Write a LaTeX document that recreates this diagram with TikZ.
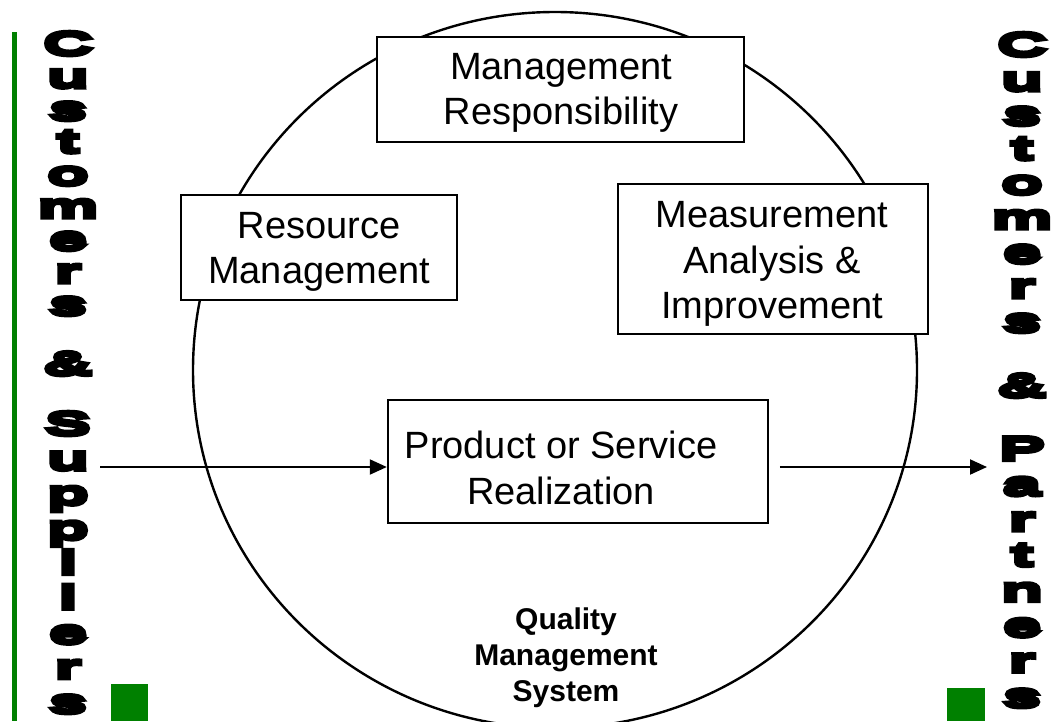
\documentclass[tikz,border=0pt]{standalone}
\usepackage{fontspec}
\setmainfont{Liberation Sans}
\newfontfamily\heavyfont[FakeStretch=2.05,FakeBold=12]{Liberation Sans Bold}
\usetikzlibrary{positioning,arrows.meta}
\definecolor{qmsgreen}{RGB}{0,128,0}

\begin{document}
\begin{tikzpicture}[
  x=0.75pt, y=-0.75pt,
  squarednode/.style={rectangle, draw=black, line width=1.8pt, fill=white, inner sep=0pt},
  boxtext/.style={align=center, font=\fontsize{28.5}{34}\selectfont},
  arrow/.style = {line width=1.5pt,-{Triangle[length=12.75pt,width=11.25pt]}},
  letternode/.style={font=\heavyfont\fontsize{25}{25}\selectfont, anchor=base, inner sep=0pt},
  greenbox/.style={fill=qmsgreen, inner sep=0pt}
]
\useasboundingbox (0,0) rectangle (1055,721);

%Circle
\draw[line width=1.8pt] (555,370) ellipse [x radius=362, y radius=358];

%Nodes
\node[squarednode, minimum width=275.3pt, minimum height=78.8pt] (mgmt) at (560.5,89.5) {};
\node[boxtext] (mgmtlabel) at (561,93) {Management\\Responsibility};
\node[squarednode, minimum width=207pt, minimum height=78.8pt] (res) at (319,247.5) {};
\node[boxtext] (reslabel) at (319,252) {Resource\\Management};
\node[squarednode, minimum width=232.5pt, minimum height=112.5pt] (meas) at (773,259) {};
\node[boxtext] (measlabel) at (772,264) {Measurement\\Analysis \&\\Improvement};
\node[squarednode, minimum width=285pt, minimum height=92.3pt] (prod) at (578,461.5) {};
\node[boxtext] (prodlabel) at (561,468) {Product or Service\\Realization};

\node[align=center, font=\bfseries\fontsize{22.5}{27}\selectfont] (qms) at (566,658) {Quality\\Management\\System};

%Green marks
\draw[qmsgreen, line width=3.75pt] (14.5,32) -- (14.5,721);
\node[greenbox, minimum width=27.75pt, minimum height=27.75pt] (sqL) at (129.5,702.5) {};
\node[greenbox, minimum width=28.5pt, minimum height=24.75pt] (sqR) at (966,704.5) {};

%Letters
\foreach \ch [count=\i] in {C,u,s,t,o,m,e,r,s}
  \node[letternode] (lc\i) at (68, {55+(\i-1)*32.5}) {\ch};
\node[letternode] (lamp) at (68,375) {\&};
\foreach \ch [count=\i] in {S,u,p,p,l,i,e,r,s}
  \node[letternode] (ls\i) at (68, {435+(\i-1)*34.75}) {\ch};

\foreach \ch [count=\i] in {C,u,s,t,o,m,e,r,s}
  \node[letternode] (rc\i) at (1022, {56+(\i-1)*34.5}) {\ch};
\node[letternode] (ramp) at (1022,397) {\&};
\foreach \ch [count=\i] in {P,a,r,t,n,e,r,s}
  \node[letternode] (rp\i) at (1022, {460+(\i-1)*35.3}) {\ch};

%Arrows
\coordinate (inL) at (100,467);
\coordinate (outR) at (987,467);
\draw[arrow] (inL) -- (inL -| prod.west);
\draw[arrow, shorten <=8pt] (outR -| prod.east) -- (outR);

\end{tikzpicture}
\end{document}
